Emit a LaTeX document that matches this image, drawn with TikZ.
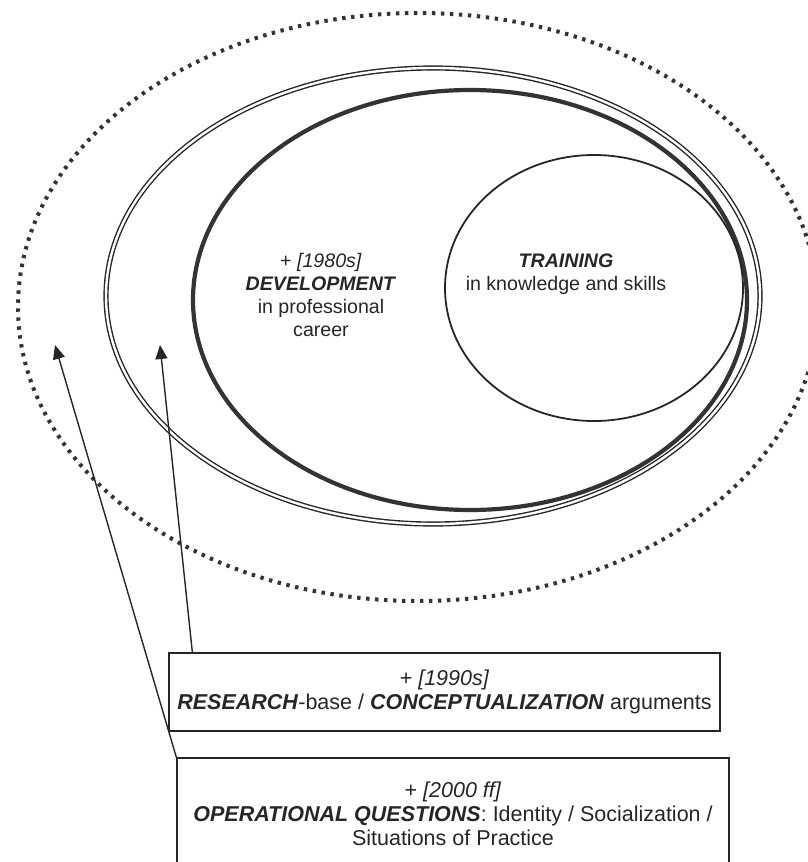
\documentclass[tikz,border=0pt]{standalone}
\usepackage{fontspec}
\setmainfont{Liberation Sans}
\usetikzlibrary{arrows.meta}
\definecolor{ink}{HTML}{262626}
\definecolor{inkd}{HTML}{333333}
\tikzset{
  lbl/.style={align=center, text=ink, inner sep=0pt, font=\fontsize{19.6}{23}\selectfont},
  boxnode/.style={draw=ink, line width=1.3pt, inner sep=0pt, align=center, text=ink,
    font=\fontsize{21.5}{24}\selectfont},
  arr/.style={draw=ink, line width=1.4pt, -{Triangle[width=12pt,length=14pt]}},
  dotring/.style={draw=inkd, line width=4pt, dash pattern=on 3.4pt off 5.6pt},
  dblring/.style={draw=ink, line width=1.4pt, double=white, double distance=2.4pt},
  thickring/.style={draw=inkd, line width=4.2pt},
  thinring/.style={draw=ink, line width=1.8pt},
}
\begin{document}
\begin{tikzpicture}[x=1pt,y=-1pt]
\useasboundingbox (0,0) rectangle (808,862);
\fill[white] (0,0) rectangle (808,862);
% rings
\draw[dotring] (418,307) ellipse [x radius=400pt, y radius=294pt];
\draw[dblring] (433,296) ellipse [x radius=327pt, y radius=228pt];
\draw[thickring] (470,300) ellipse [x radius=277pt, y radius=210pt];
\draw[thinring] (594,288) ellipse [x radius=149pt, y radius=133pt];
% texts
\node[lbl] (dev) at (321,295) {+ \textit{[1980s]}\\\textbf{\textit{DEVELOPMENT}}\\in professional\\career};
\node[lbl] (train) at (566,274) {\textbf{\textit{TRAINING}}\\in knowledge and skills};
% boxes
\node[boxnode, minimum width=551pt, minimum height=78pt] (b1) at (444.5,692)
  {+ \textit{[1990s]}\\\textbf{\textit{RESEARCH}}-base / \textbf{\textit{CONCEPTUALIZATION}} arguments};
\node[boxnode, minimum width=552pt, minimum height=112pt] (b2) at (453,814)
  {+ \textit{[2000 ff]}\\\textbf{\textit{OPERATIONAL QUESTIONS}}: Identity / Socialization /\\Situations of Practice};
% arrow tips
\coordinate (t1) at (55,345);
\coordinate (t2) at (160,345);
\draw[arr] (b2.north west) -- (t1);
\draw[arr] ([xshift=24pt]b1.north west) -- (t2);
\end{tikzpicture}
\end{document}
